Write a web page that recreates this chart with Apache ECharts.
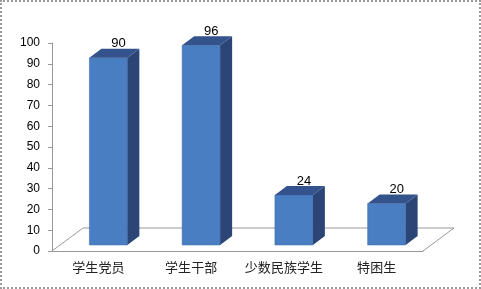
<!DOCTYPE html>
<html>
<head>
<meta charset="utf-8">
<script src="https://cdn.jsdelivr.net/npm/echarts@6/dist/echarts.min.js"></script>
<style>
    html, body { margin: 0; padding: 0; background: #fff; }
    #chart_box { width: 481px; height: 289px; box-sizing: border-box; border: 2px dotted #9a9a9a; }
    #chart { position: absolute; left: 0; top: 0; width: 481px; height: 289px; }
</style>
</head>
<body>
<div id="chart_box"></div>
<div id="chart"></div>
<script>
// 数据
const categories = ['学生党员', '学生干部', '少数民族学生', '特困生'];
const values = [90, 96, 24, 20];
const yTicks = [0, 100, 10]; // min, max, interval

// 3D 偏移
const FRONT_DX = 10, FRONT_DY = -6;
const HALF_W = 19;
const DEPTH_X = 12, DEPTH_Y = -9;
const FLOOR_X = 31, FLOOR_Y = -23;

const chart = echarts.init(document.getElementById('chart'));

const renderBar = (params, api) => {
    const base = api.coord([api.value(0), 0]);
    const top = api.coord([api.value(0), api.value(1)]);
    const cx = base[0] + FRONT_DX;
    const yb = base[1] + FRONT_DY;
    const yt = top[1] + FRONT_DY;
    const l = cx - HALF_W, r = cx + HALF_W;
    return {
        type: 'group',
        children: [
            {
                type: 'rect',
                shape: { x: l, y: yt, width: r - l, height: yb - yt },
                style: { fill: '#4a7ec2', stroke: '#3d6aa6', lineWidth: 0.5 }
            },
            {
                type: 'polygon',
                shape: { points: [[r, yt], [r + DEPTH_X, yt + DEPTH_Y], [r + DEPTH_X, yb + DEPTH_Y], [r, yb]] },
                style: { fill: '#2b4577' }
            },
            {
                type: 'polygon',
                shape: { points: [[l, yt], [r, yt], [r + DEPTH_X, yt + DEPTH_Y], [l + DEPTH_X, yt + DEPTH_Y]] },
                style: { fill: '#34528c' }
            },
            {
                type: 'text',
                style: {
                    x: cx + 10, y: yt - 14,
                    text: String(api.value(1)),
                    fill: '#000',
                    font: '13px "Liberation Sans", Arial, sans-serif',
                    align: 'center', verticalAlign: 'middle'
                }
            }
        ]
    };
};

// 地板
const renderFloor = (params) => {
    const c = params.coordSys;
    const x0 = c.x, x1 = c.x + c.width, y0 = c.y + c.height;
    const line = (a, b) => ({
        type: 'line',
        shape: { x1: a[0], y1: a[1], x2: b[0], y2: b[1] },
        style: { stroke: '#999', lineWidth: 1 }
    });
    return {
        type: 'group',
        children: [
            line([x0, y0], [x0 + FLOOR_X, y0 + FLOOR_Y]),
            line([x0 + FLOOR_X, y0 + FLOOR_Y], [x1 + FLOOR_X, y0 + FLOOR_Y]),
            line([x1 + FLOOR_X, y0 + FLOOR_Y], [x1, y0])
        ]
    };
};

const option = {
    animation: false,
    grid: { left: 52, right: 58, top: 43, bottom: 38 },
    xAxis: {
        type: 'category',
        data: categories,
        axisLine: { lineStyle: { color: '#999' } },
        axisTick: { length: 3, lineStyle: { color: '#999' } },
        axisLabel: {
            interval: 0,
            margin: 10,
            color: '#222',
            fontSize: 13,
            fontFamily: '"Noto Sans CJK SC", sans-serif'
        }
    },
    yAxis: {
        type: 'value',
        min: yTicks[0],
        max: yTicks[1],
        interval: yTicks[2],
        axisLine: { show: true, lineStyle: { color: '#999' } },
        axisTick: { show: true, length: 4, lineStyle: { color: '#999' } },
        splitLine: { show: false },
        axisLabel: {
            margin: 12,
            color: '#000',
            fontSize: 12,
            fontFamily: '"Liberation Sans", Arial, sans-serif'
        }
    },
    series: [
        {
            type: 'custom',
            renderItem: renderFloor,
            data: [[0, 0]],
            z: 1,
            silent: true
        },
        {
            type: 'custom',
            renderItem: renderBar,
            encode: { x: 0, y: 1 },
            data: values.map((v, i) => [i, v]),
            z: 2
        }
    ]
};

chart.setOption(option);
</script>
</body>
</html>
